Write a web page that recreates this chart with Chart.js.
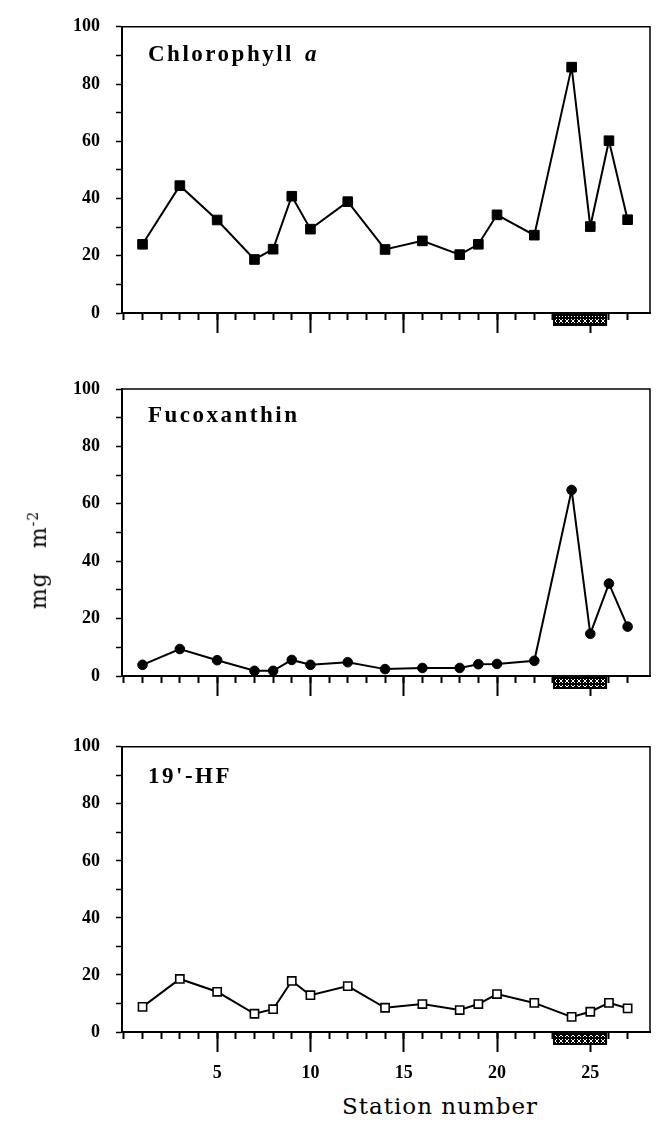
<!DOCTYPE html>
<html>
<head>
<meta charset="utf-8">
<script src="https://cdn.jsdelivr.net/npm/chart.js@4.4.0/dist/chart.umd.min.js"></script>
<style>
  html, body { margin: 0; padding: 0; background: #fff; }
  body { width: 660px; height: 1138px; position: relative; overflow: hidden; }
  .panel { position: absolute; left: 0; width: 660px; }
  #yTitle { position: absolute; left: 38px; top: 560px; transform: translate(-50%, -50%) rotate(-90deg);
            font-family: "DejaVu Serif"; font-size: 22px; white-space: nowrap; color: #000; letter-spacing: 1px; }
  #yTitle sup { font-size: 14px; }
  #xTitle { position: absolute; left: 440px; top: 1106px; transform: translate(-50%, -50%);
            font-family: "DejaVu Serif"; font-size: 23px; letter-spacing: 1px; white-space: nowrap; color: #000; }
</style>
</head>
<body>
<div class="panel" style="top:0px;height:353px"><canvas id="chl"></canvas></div>
<div class="panel" style="top:360px;height:356px"><canvas id="fuco"></canvas></div>
<div class="panel" style="top:720px;height:362px"><canvas id="hf"></canvas></div>
<div id="yTitle">mg&nbsp;&nbsp;&nbsp;m<sup>-2</sup></div>
<div id="xTitle">Station number</div>
<script>
// station numbers sampled
const stations = [1, 3, 5, 7, 8, 9, 10, 12, 14, 16, 18, 19, 20, 22, 24, 25, 26, 27];
// pigment values, mg m-2
const chlorophyllA = [24, 44.5, 32.5, 18.7, 22.3, 40.8, 29.3, 38.9, 22.2, 25.2, 20.4, 24, 34.3, 27.2, 85.9, 30.2, 60.2, 32.6];
const fucoxanthin = [3.9, 9.4, 5.5, 1.8, 1.8, 5.6, 3.9, 4.8, 2.4, 2.8, 2.8, 4.1, 4.2, 5.3, 64.8, 14.7, 32.2, 17.2];
const hf19 = [8.8, 18.6, 14.1, 6.4, 8, 17.9, 12.9, 16.1, 8.5, 9.8, 7.7, 9.8, 13.3, 10.2, 5.3, 7.1, 10.2, 8.3];

// axis ticks
const stationTicks = [0, 1, 2, 3, 4, 5, 6, 7, 8, 9, 10, 11, 12, 13, 14, 15, 16, 17, 18, 19, 20, 21, 22, 23, 24, 25, 26, 27];
const xTickLabels = [5, 10, 15, 20, 25];
const yTickLabels = [0, 20, 40, 60, 80, 100];
// hatched bar under the x axis (station range)
const hatchedStations = [23.0, 25.9];

const serifBold = { family: '"Liberation Serif", "Times New Roman", serif', weight: 'bold', size: 18 };

function makeHatch() {
  const c = document.createElement('canvas');
  c.width = 6; c.height = 6;
  const g = c.getContext('2d');
  g.fillStyle = '#000';
  g.fillRect(0, 0, 6, 6);
  g.strokeStyle = '#fff';
  g.lineWidth = 1;
  g.beginPath();
  g.moveTo(1, 1); g.lineTo(5, 5);
  g.moveTo(5, 1); g.lineTo(1, 5);
  g.stroke();
  return c;
}

const panelDecor = {
  id: 'panelDecor',
  afterDraw(chart, args, opts) {
    const { ctx, chartArea: a, scales } = chart;
    ctx.save();
    // top and right frame
    ctx.strokeStyle = '#000';
    ctx.lineWidth = 1.5;
    ctx.beginPath();
    ctx.moveTo(a.left, a.top);
    ctx.lineTo(a.right, a.top);
    ctx.lineTo(a.right, a.bottom);
    ctx.stroke();

    // panel title
    ctx.fillStyle = '#000';
    ctx.textBaseline = 'alphabetic';
    ctx.letterSpacing = '2.5px';
    ctx.font = 'bold 23px "Liberation Serif"';
    const tx = a.left + 26, ty = a.top + opts.titleY;
    ctx.fillText(opts.title, tx, ty);
    if (opts.titleItalic) {
      const w = ctx.measureText(opts.title).width;
      ctx.font = 'italic bold 23px "Liberation Serif"';
      ctx.fillText(opts.titleItalic, tx + w + 11, ty);
    }
    ctx.letterSpacing = '0px';

    // hatched bar
    const x0 = scales.x.getPixelForValue(hatchedStations[0]);
    const x1 = scales.x.getPixelForValue(hatchedStations[1]);
    ctx.fillStyle = '#000';
    ctx.fillRect(x0, a.bottom, x1 - x0, 13);
    ctx.fillStyle = ctx.createPattern(makeHatch(), 'repeat');
    ctx.fillRect(x0 + 2, a.bottom + 3, x1 - x0 - 4, 8);
    ctx.restore();
  }
};

function makePanel(id, values, point, opt) {
  const xMin = -0.1, xMax = 28.2;
  return new Chart(document.getElementById(id), {
    type: 'line',
    data: {
      datasets: [{
        data: stations.map((s, i) => ({ x: s, y: values[i] })),
        borderColor: '#000',
        borderWidth: 2,
        tension: 0,
        pointStyle: point.style,
        pointRadius: point.radius,
        pointBackgroundColor: point.fill,
        pointBorderColor: '#000',
        pointBorderWidth: point.border
      }]
    },
    options: {
      responsive: true,
      maintainAspectRatio: false,
      animation: false,
      events: [],
      layout: { padding: { left: 0, right: 10, top: opt.padTop, bottom: 0 } },
      plugins: {
        legend: { display: false },
        tooltip: { enabled: false },
        panelDecor: { title: opt.title, titleItalic: opt.titleItalic, titleY: opt.titleY }
      },
      scales: {
        x: {
          type: 'linear',
          position: 'bottom',
          min: xMin, max: xMax,
          afterBuildTicks: s => { s.ticks = stationTicks.map(v => ({ value: v })); },
          afterFit: s => { s.height = opt.xHeight; },
          ticks: {
            display: opt.showLabels,
            autoSkip: false,
            maxRotation: 0,
            padding: 11,
            color: '#000',
            font: serifBold,
            callback: v => xTickLabels.includes(v) ? String(v) : ''
          },
          grid: {
            drawOnChartArea: false,
            tickLength: 20,
            tickWidth: 2,
            tickColor: c => (c.tick && xTickLabels.includes(c.tick.value)) ? '#000' : 'rgba(0,0,0,0)'
          },
          border: { color: '#000', width: 2 }
        },
        xMinor: {
          type: 'linear',
          axis: 'x',
          position: { y: 0 },
          min: xMin, max: xMax,
          afterBuildTicks: s => { s.ticks = stationTicks.map(v => ({ value: v })); },
          ticks: { display: false },
          grid: { drawOnChartArea: false, tickLength: 7, tickWidth: 2, tickColor: '#000' },
          border: { display: false }
        },
        y: {
          min: 0, max: 100,
          afterFit: s => { s.width = 122; },
          ticks: {
            stepSize: 10,
            autoSkip: false,
            padding: 16,
            color: '#000',
            font: serifBold,
            callback: v => yTickLabels.includes(v) ? String(v) : ''
          },
          grid: { drawOnChartArea: false, tickLength: 6, tickWidth: 1.5, tickColor: '#000' },
          border: { color: '#000', width: 2 }
        }
      }
    },
    plugins: [panelDecor]
  });
}

makePanel('chl', chlorophyllA,
  { style: 'rect', radius: 6.8, fill: '#000', border: 1 },
  { padTop: 20, xHeight: 40, title: 'Chlorophyll', titleItalic: 'a', titleY: 34, showLabels: false });
makePanel('fuco', fucoxanthin,
  { style: 'circle', radius: 4.8, fill: '#000', border: 1 },
  { padTop: 29, xHeight: 40, title: 'Fucoxanthin', titleY: 33, showLabels: false });
makePanel('hf', hf19,
  { style: 'rect', radius: 5.8, fill: '#fff', border: 1.6 },
  { padTop: 25, xHeight: 50, title: "19'-HF", titleY: 36, showLabels: true });
</script>
</body>
</html>
